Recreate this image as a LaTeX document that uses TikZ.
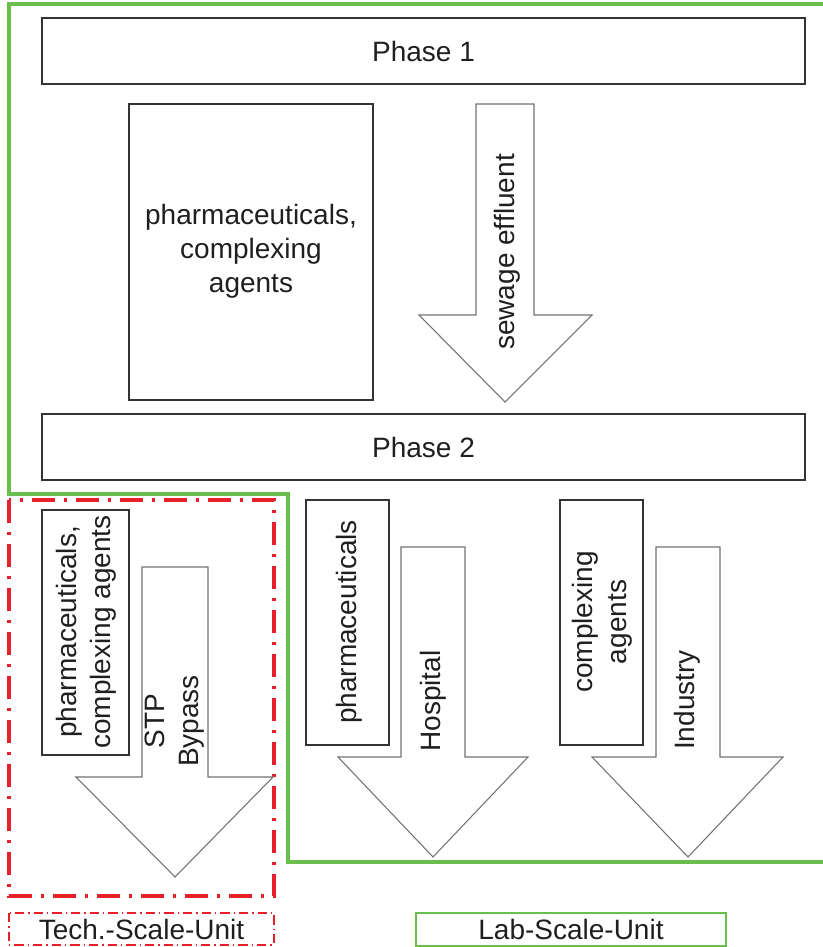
\documentclass[tikz,border=0pt]{standalone}
\usepackage{fontspec}
\setmainfont{Liberation Sans}
\begin{document}
\begin{tikzpicture}[x=0.75pt,y=-0.75pt,
  txt/.style={font=\fontsize{21pt}{25.5pt}\selectfont, text=black!88, align=center, inner sep=0pt},
  boxline/.style={draw=black!80, line width=1.4pt},
  arrowline/.style={draw=black!55, line width=0.8pt, fill=white, line join=miter},
]
\definecolor{labgreen}{RGB}{106,190,75}
\definecolor{techred}{RGB}{232,32,42}
\useasboundingbox (0,0) rectangle (822,947);

% Lab-scale outline
\draw[draw=labgreen, line width=2.8pt] (823,4) -- (9,4) -- (9,494) -- (288,494) -- (288,862) -- (823,862);
% Tech-scale outline
\draw[draw=techred, line width=2.8pt, dash pattern=on 17pt off 7pt on 2pt off 7pt] (9,500) rectangle (274,896);

% Phase boxes
\draw[boxline] (42,18) rectangle (805,84);
\node[txt] (phase1) at (423.5,51) {Phase 1};
\draw[boxline] (42,414) rectangle (805,480);
\node[txt] (phase2) at (423.5,447) {Phase 2};

% top substance box
\draw[boxline] (129,104) rectangle (373,400);
\node[txt] (pcagents) at (251,251) {pharmaceuticals,\\complexing\\agents};

% sewage effluent arrow
\draw[arrowline] (476,104) -- (534,104) -- (534,315) -- (592,315) -- (505,402) -- (419,315) -- (476,315) -- cycle;
\node[txt, rotate=90] (sewage) at (507,252) {sewage effluent};

% tech-scale unit content
\draw[boxline] (42,510) rectangle (129,755);
\node[txt, rotate=90] (techsub) at (86,632) {pharmaceuticals,\\complexing agents};
\draw[arrowline] (142,567) -- (208,567) -- (208,777) -- (273,777) -- (175,877) -- (76,777) -- (142,777) -- cycle;
\node[txt, rotate=90] (stp) at (175,721) {STP\\Bypass};

% hospital
\draw[boxline] (306,500) rectangle (389,745);
\node[txt, rotate=90] (pharm) at (349,622) {pharmaceuticals};
\draw[arrowline] (401,547) -- (465,547) -- (465,757) -- (528,757) -- (433,857) -- (338,757) -- (401,757) -- cycle;
\node[txt, rotate=90] (hospital) at (433,701) {Hospital};

% industry
\draw[boxline] (560,500) rectangle (643,745);
\node[txt, rotate=90] (complex) at (602,622) {complexing\\agents};
\draw[arrowline] (656,547) -- (720,547) -- (720,757) -- (783,757) -- (688,857) -- (592,757) -- (656,757) -- cycle;
\node[txt, rotate=90] (industry) at (687,700) {Industry};

% legend
\draw[draw=techred, line width=1.3pt, dash pattern=on 7pt off 3pt on 1pt off 3pt] (9,913) rectangle (274,945);
\node[txt] (techlegend) at (141.5,929) {Tech.-Scale-Unit};
\draw[draw=labgreen, line width=1.8pt] (416,913) rectangle (726,946);
\node[txt] (lablegend) at (571,929.5) {Lab-Scale-Unit};
\end{tikzpicture}
\end{document}
